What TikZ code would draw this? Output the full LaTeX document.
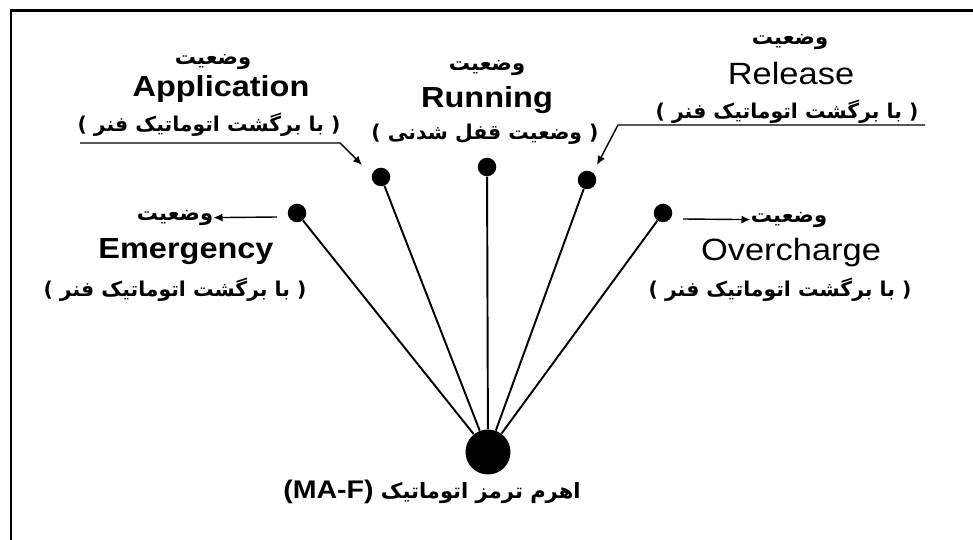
\documentclass[tikz,border=0pt]{standalone}
\usepackage{fontspec}
\setmainfont{Liberation Sans}
\newfontfamily\enfont[FakeStretch=1.12]{Liberation Sans}
\newfontfamily\farsi[Script=Arabic]{DejaVu Sans}
\TeXXeTstate=1
\newcommand{\fatext}[1]{{\farsi\beginR #1\endR}}
\usetikzlibrary{arrows.meta}

\begin{document}
\begin{tikzpicture}[
  knob/.style={circle, fill=black, inner sep=0pt, minimum size=0.37cm},
  lever/.style={line width=1.1pt},
  en/.style={font=\fontsize{16.5}{19}\enfont\bfseries, inner sep=0pt},
  enlight/.style={font=\fontsize{17.5}{20}\enfont, inner sep=0pt},
  fa/.style={font=\fontsize{12}{14}\farsi\bfseries, inner sep=0pt},
  fanote/.style={font=\fontsize{11.6}{14}\farsi\bfseries, inner sep=0pt},
  pointer/.style={line width=0.8pt, -{Latex[length=1.8mm,width=1.6mm]}}
]
  \useasboundingbox (0,0) rectangle (19.46,10.8);
  % frame, only top and left edges
  \draw[line width=1.7pt] (0.22,0) -- (0.22,10.58) -- (19.46,10.58);

  % lever and its five positions
  \node[knob, minimum size=0.9cm] (hub) at (9.76,1.76) {};
  \node[knob] (em) at (5.94,6.54) {};
  \node[knob] (ap) at (7.62,7.26) {};
  \node[knob] (ru) at (9.74,7.46) {};
  \node[knob] (re) at (11.74,7.20) {};
  \node[knob] (ov) at (13.26,6.54) {};
  \foreach \p in {em,ap,ru,re,ov}
    \draw[lever] (\p) -- (hub);

  % Application
  \node[fa] (ap-w) at (4.26,9.56) {\fatext{وضعیت}};
  \node[en] (ap-e) at (4.42,9.02) {Application};
  \node[fanote] (ap-n) at (4.18,8.30) {\fatext{( با برگشت اتوماتیک فنر )}};
  \coordinate (ap-l) at (1.6,7.94);
  \coordinate (ap-k) at (6.8,7.94);
  \coordinate (ap-t) at (7.24,7.50);
  \draw[pointer] (ap-l) -- (ap-k) -- (ap-t);

  % Running
  \node[fa] (ru-w) at (9.74,9.44) {\fatext{وضعیت}};
  \node[en] (ru-e) at (9.74,8.80) {Running};
  \node[fanote] (ru-n) at (9.70,8.12) {\fatext{( وضعیت قفل شدنی )}};

  % Release
  \node[fa] (re-w) at (15.80,9.96) {\fatext{وضعیت}};
  \node[enlight] (re-e) at (15.82,9.32) {Release};
  \node[fanote] (re-n) at (15.74,8.56) {\fatext{( با برگشت اتوماتیک فنر )}};
  \coordinate (re-l) at (18.5,8.30);
  \coordinate (re-k) at (12.36,8.30);
  \coordinate (re-t) at (11.94,7.50);
  \draw[pointer] (re-l) -- (re-k) -- (re-t);

  % Emergency
  \node[fa] (em-w) at (3.50,6.44) {\fatext{وضعیت}};
  \node[en] (em-e) at (3.72,5.76) {Emergency};
  \node[fanote] (em-n) at (3.50,5.00) {\fatext{( با برگشت اتوماتیک فنر )}};
  \coordinate (em-a) at (5.54,6.46);
  \draw[pointer] (em-a) -- (em-w);

  % Overcharge
  \node[fa] (ov-w) at (15.78,6.40) {\fatext{وضعیت}};
  \node[enlight] (ov-e) at (15.82,5.74) {Overcharge};
  \node[fanote] (ov-n) at (15.60,5.00) {\fatext{( با برگشت اتوماتیک فنر )}};
  \coordinate (ov-a) at (13.66,6.42);
  \draw[pointer] (ov-a) -- (ov-w);

  % lever name
  \node[fa] (lbl) at (8.64,0.96)
    {{\fontsize{14.5}{17}\enfont\bfseries (MA-F)} \fatext{اهرم ترمز اتوماتیک}};
\end{tikzpicture}
\end{document}
